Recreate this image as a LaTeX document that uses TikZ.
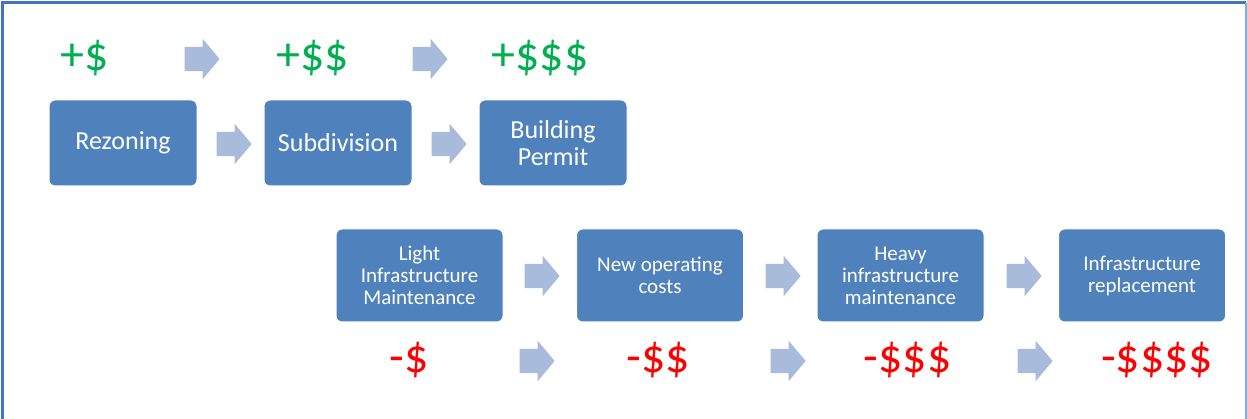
\documentclass[tikz,border=0pt]{standalone}
\usepackage{fontspec}
\setmainfont{Carlito}
\usetikzlibrary{shapes.arrows}
\definecolor{boxblue}{HTML}{4F81BD}
\definecolor{arrowblue}{HTML}{A9BBDB}
\definecolor{plusgreen}{HTML}{00B050}
\definecolor{minusred}{HTML}{FF0000}
\definecolor{framedark}{HTML}{4472C4}
\definecolor{framelight}{HTML}{8EAADB}
\tikzset{
  blk/.style={rectangle, rounded corners=6pt, fill=boxblue, draw=white, line width=1pt, text=white, align=center, inner sep=0pt},
  toprow/.style={blk, minimum width=148pt, minimum height=86pt, font=\fontsize{26}{27}\selectfont},
  lowrow/.style={blk, minimum width=167pt, minimum height=93pt, font=\fontsize{21}{22}\selectfont},
  arr/.style={single arrow, fill=arrowblue, draw=none, minimum height=35pt, inner xsep=0pt, inner ysep=12pt, single arrow head extend=8pt, single arrow tip angle=100, anchor=center, xshift=-3pt},
  gain/.style={text=plusgreen, font=\fontsize{48}{52}\selectfont, inner sep=0pt},
  loss/.style={text=minusred, font=\fontsize{48}{52}\selectfont, inner sep=0pt}
}
\begin{document}
\begin{tikzpicture}[x=1pt,y=-1pt]
\useasboundingbox (0,0) rectangle (1247,419);
\fill[white] (0,0) rectangle (1247,419);
% frame
\coordinate (ftl) at (2,3);
\coordinate (ftr) at (1246,3);
\coordinate (fbl) at (2,419);
\coordinate (fbr) at (1246,419);
\draw[framedark, line width=3pt] (fbl) -- (ftl) -- (ftr);
\draw[framelight, line width=1.2pt] (ftr) -- (fbr);
% top row
\node[toprow] (rez) at (123,143) {Rezoning};
\node[toprow] (sub) at (338,143) {Subdivision};
\node[toprow] (bld) at (553,143) {Building\\Permit};
\node[gain] (g1) at (85,58) {+\$};
\node[gain] (g2) at (313,58) {+\$\$};
\node[gain] (g3) at (540,58) {+\$\$\$};
\node[arr] (ta1) at (200,59) {};
\node[arr] (ta2) at (428,59) {};
\node[arr] (ma1) at (232,144) {};
\node[arr] (ma2) at (447,144) {};
% bottom row
\node[lowrow] (lim) at (419.5,275.5) {Light\\Infrastructure\\Maintenance};
\node[lowrow] (noc) at (660,275.5) {New operating\\costs};
\node[lowrow] (him) at (900.5,275.5) {Heavy\\infrastructure\\maintenance};
\node[lowrow] (irp) at (1142,275.5) {Infrastructure\\replacement};
\node[arr] (ba1) at (540,276) {};
\node[arr] (ba2) at (781,276) {};
\node[arr] (ba3) at (1022,276) {};
\node[loss] (l1) at (409,360) {-\$};
\node[loss] (l2) at (658,360) {-\$\$};
\node[loss] (l3) at (907.5,360) {-\$\$\$};
\node[loss] (l4) at (1157,360) {-\$\$\$\$};
\node[arr] (la1) at (535,361) {};
\node[arr] (la2) at (786,361) {};
\node[arr] (la3) at (1033,361) {};
\end{tikzpicture}
\end{document}
